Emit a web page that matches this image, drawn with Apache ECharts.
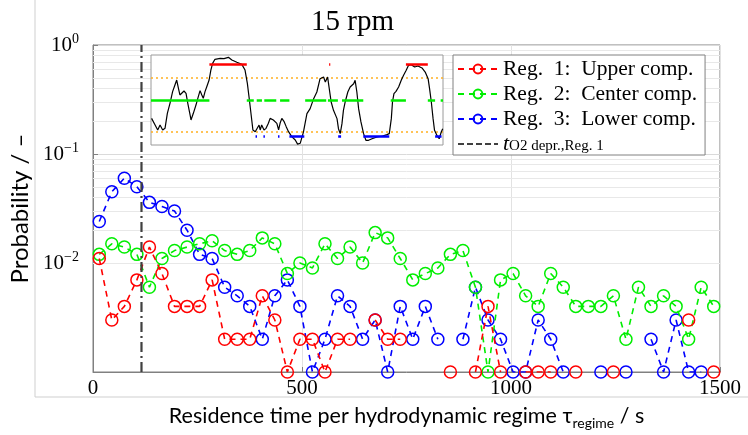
<!DOCTYPE html>
<html>
<head>
<meta charset="utf-8" />
<script src="https://cdn.jsdelivr.net/npm/echarts@6/dist/echarts.min.js"></script>
<style>
  html, body { margin: 0; padding: 0; background: #fff; }
  #chart { width: 748px; height: 435px; }
</style>
</head>
<body>
<div id="chart"></div>
<script>
// bin centres of the residence-time histogram, s
const times = [15, 45, 75, 105, 135, 165, 195, 225, 255, 285,
  315, 345, 375, 405, 435, 465, 495, 525, 555, 585,
  615, 645, 675, 705, 735, 765, 795, 825, 855, 885,
  915, 945, 975, 1005, 1035, 1065, 1095, 1125, 1155, 1185,
  1215, 1245, 1275, 1305, 1335, 1365, 1395, 1425, 1455, 1485];

// probabilities, null = empty bin (not drawn on log axis)
const upperComp = [0.011, 0.003, 0.004, 0.007, 0.014, 0.008, 0.004, 0.004, 0.004, 0.007,
  0.002, 0.002, 0.002, 0.005, 0.003, 0.001, 0.002, 0.002, 0.001, 0.002,
  0.002, null, 0.003, 0.002, 0.002, null, null, null, 0.001, null,
  0.001, 0.004, 0.001, null, 0.001, 0.001, 0.001, null, 0.001, null,
  null, 0.001, null, null, null, null, null, 0.003, null, 0.001];

const centerComp = [0.012, 0.015, 0.014, 0.012, 0.006, 0.011, 0.013, 0.014, 0.015, 0.016,
  0.013, 0.012, 0.013, 0.017, 0.015, 0.008, 0.010, 0.009, 0.015, 0.011,
  0.014, 0.010, 0.019, 0.017, 0.011, 0.007, 0.008, 0.009, 0.012, 0.013,
  0.006, 0.001, 0.007, 0.008, 0.005, 0.004, 0.008, 0.006, 0.004, 0.004,
  0.004, 0.005, 0.002, 0.006, 0.004, 0.005, 0.004, 0.002, 0.006, 0.004];

const lowerComp = [0.024, 0.045, 0.060, 0.050, 0.036, 0.033, 0.030, 0.020, 0.012, 0.011,
  0.006, 0.005, 0.004, 0.002, 0.005, 0.007, 0.004, 0.001, 0.002, 0.005,
  0.004, 0.002, 0.003, 0.001, 0.004, 0.002, 0.004, 0.002, null, 0.002,
  0.006, 0.003, 0.002, 0.001, 0.001, 0.003, 0.002, 0.001, null, null,
  0.001, null, 0.001, null, 0.002, 0.001, 0.003, 0.001, 0.001, null];

const o2DeprTime = 116;
const minorGrid = [0.002, 0.003, 0.004, 0.005, 0.006, 0.007, 0.008, 0.009,
  0.02, 0.03, 0.04, 0.05, 0.06, 0.07, 0.08, 0.09,
  0.2, 0.3, 0.4, 0.5, 0.6, 0.7, 0.8, 0.9];

// inset: signal trace (arbitrary units, 0..100 both ways)
const insetTime = [0.2, 1.4, 2.3, 3.1, 4.0, 4.8, 5.6, 6.5, 7.4, 8.2, 8.8, 9.4, 9.9, 10.5, 11.3, 12.0,
  12.6, 13.4, 13.7, 14.5, 15.4, 16.2, 16.8, 17.4, 17.9, 18.5, 19.1, 19.9, 20.5, 21.1, 21.9,
  23.7, 25.0, 26.5, 27.7, 29.4, 31.1, 32.2, 33.0, 33.7, 34.3, 34.9, 35.7, 36.2, 37.0, 37.4,
  37.9, 38.7, 39.4, 40.2, 40.8, 41.4, 41.9, 42.5, 43.1, 43.7, 44.2, 44.8, 45.6, 46.3, 47.1,
  48.2, 49.4, 50.2, 51.1, 52.2, 53.4, 54.5, 55.7, 56.8, 57.9, 59.1, 59.7, 60.5, 60.8, 61.7,
  62.5, 63.7, 64.2, 64.8, 65.4, 65.9, 66.5, 67.4, 68.2, 69.4, 69.9, 70.5, 71.1, 71.9, 72.8,
  73.6, 74.5, 75.7, 77.4, 79.3, 80.8, 81.6, 82.3, 82.7, 83.2, 83.9, 84.8, 85.7, 86.5, 87.4,
  88.2, 89.1, 90.3, 91.4, 92.8, 93.9, 94.9, 95.4, 96.0, 96.6, 97.1, 97.9, 98.7, 99.4, 99.9];
const insetSignal = [29.6, 22.2, 16.7, 22.2, 16.7, 18.5, 35.2, 46.3, 59.3, 66.7, 72.2, 63.0, 55.6, 57.4, 60.0, 57.4,
  46.3, 33.3, 27.8, 35.2, 44.4, 53.7, 60.4, 55.6, 51.9, 59.3, 64.8, 72.2, 83.3, 90.7, 95.2,
  96.3, 95.9, 97.4, 94.4, 91.9, 89.6, 83.3, 68.5, 50.0, 33.3, 16.7, 14.8, 16.7, 22.2, 16.7,
  22.2, 16.7, 18.5, 24.1, 29.6, 31.5, 27.8, 29.6, 24.1, 16.7, 24.1, 29.6, 25.9, 20.4, 14.8,
  9.3, 5.6, 1.0, 1.9, 14.4, 34.8, 40.4, 51.5, 58.9, 73.7, 75.6, 70.0, 75.6, 68.1, 47.8,
  38.5, 29.3, 18.1, 12.6, 23.7, 38.5, 47.8, 58.9, 64.4, 68.1, 71.9, 58.9, 40.4, 25.6, 12.6,
  5.2, 5.2, 7.0, 8.9, 10.0, 11.5, 12.6, 29.3, 47.8, 57.0, 59.6, 64.4, 71.9, 77.4, 83.0,
  88.5, 89.3, 86.7, 87.8, 85.6, 81.1, 73.7, 62.6, 47.8, 29.3, 16.3, 10.7, 7.0, 14.4, 18.1];
const insetThresholds = [74.8, 14.8];
const upperLevel = 90, centerLevel = 49.6, lowerLevel = 9.3;
const upperSegs = [[20.0, 32.8], [61.0, 61.4], [87.3, 94.8]];
const centerSegs = [[0, 20.0], [32.8, 35.2], [36.2, 38.0], [38.8, 42.9], [44.2, 47.4], [52.8, 60.0],
  [60.6, 64.0], [65.4, 72.7], [82.1, 87.3], [94.8, 97.3], [99.2, 100]];
const lowerSegs = [[35.8, 36.3], [38.5, 39.0], [43.5, 44.0], [47.4, 52.5], [64.1, 65.1], [72.7, 81.6], [97.3, 99.5]];

const serif = 'Liberation Serif';
const sans = 'Lato';
const names = ['Reg.  1:  Upper comp.', 'Reg.  2:  Center comp.', 'Reg.  3:  Lower comp.', 'tO2'];

const toPoints = arr => times.map((t, i) => [t, arr[i] === null ? '-' : arr[i]]);

const histSeries = (name, data, color, z) => ({
  name,
  type: 'line',
  data: toPoints(data),
  z,
  symbol: 'circle',
  symbolSize: 12,
  connectNulls: false,
  itemStyle: { color: 'rgba(0,0,0,0)', borderColor: color, borderWidth: 1.5 },
  lineStyle: { color, width: 1.6, type: [6, 5] },
  emphasis: { disabled: true }
});

const segSeries = (segs, level, color) => ({
  type: 'lines',
  coordinateSystem: 'cartesian2d',
  xAxisIndex: 1,
  yAxisIndex: 1,
  z: 12,
  silent: true,
  lineStyle: { color, width: 2.6, opacity: 1 },
  data: segs.map(s => ({ coords: [[s[0], level], [s[1], level]] }))
});

const chart = echarts.init(document.getElementById('chart'));

const option = {
  animation: false,
  backgroundColor: '#fff',
  title: {
    text: '15 rpm',
    left: 306,
    top: 3,
    textStyle: { fontFamily: serif, fontSize: 29, fontWeight: 'normal', color: '#000' }
  },
  graphic: [
    { type: 'line', shape: { x1: 35, y1: 0, x2: 35, y2: 397 }, style: { stroke: '#cfcfcf', lineWidth: 1 } },
    { type: 'line', shape: { x1: 35, y1: 397, x2: 748, y2: 397 }, style: { stroke: '#cfcfcf', lineWidth: 1 } }
  ],
  legend: {
    data: [
      names[0], names[1], names[2],
      { name: 'tO2', itemStyle: { color: 'rgba(0,0,0,0)', borderColor: 'rgba(0,0,0,0)', borderWidth: 0 },
        lineStyle: { type: [6, 3] } }
    ],
    orient: 'vertical',
    left: 453,
    top: 55,
    itemWidth: 40,
    itemHeight: 11,
    itemGap: 3,
    padding: [3, 8, 0, 4],
    backgroundColor: '#fff',
    borderColor: '#808080',
    borderWidth: 1,
    selectedMode: false,
    z: 20,
    textStyle: {
      fontFamily: serif, fontSize: 21.5, color: '#000', lineHeight: 20,
      rich: {
        it: { fontFamily: serif, fontStyle: 'italic', fontSize: 22, lineHeight: 20 },
        sub: { fontFamily: serif, fontSize: 15, verticalAlign: 'bottom' }
      }
    },
    formatter: name => name === 'tO2' ? '{it|t}{sub|O2 depr.,Reg. 1}' : name
  },
  grid: [
    { left: 93, right: 28, top: 45, bottom: 61, show: true, borderColor: '#808080', borderWidth: 1 },
    { left: 151, top: 55, width: 292, height: 90, show: true, backgroundColor: '#fff', borderColor: '#9a9a9a', borderWidth: 1, z: 3 }
  ],
  xAxis: [
    {
      type: 'value', gridIndex: 0, min: 0, max: 1500, interval: 500,
      axisLine: { lineStyle: { color: '#808080' } },
      axisTick: { inside: true, length: 5, lineStyle: { color: '#808080' } },
      axisLabel: { fontFamily: serif, fontSize: 21, color: '#000', margin: 6, formatter: v => String(v) },
      splitLine: { show: true, lineStyle: { color: '#e2e2e2' } },
      name: '{n|Residence time per hydrodynamic regime τ}{sub|regime}{n| / s}',
      nameLocation: 'middle',
      nameGap: 30,
      nameTextStyle: {
        rich: {
          n: { fontFamily: sans, fontSize: 21.5, color: '#000', lineHeight: 28 },
          sub: { fontFamily: sans, fontSize: 14, color: '#000', verticalAlign: 'bottom' }
        }
      }
    },
    { type: 'value', gridIndex: 1, min: 0, max: 100, show: false }
  ],
  yAxis: [
    {
      type: 'log', gridIndex: 0, logBase: 10, min: 0.001, max: 1,
      axisLine: { show: true, lineStyle: { color: '#808080' } },
      axisTick: { inside: true, length: 5, lineStyle: { color: '#808080' } },
      axisLabel: {
        color: '#000', margin: 14,
        formatter: v => {
          const e = Math.round(Math.log10(v));
          if (e === -3) return '';
          return '{b|10}{sup|' + (e < 0 ? '\u2212' + (-e) : e) + '}';
        },
        rich: {
          b: { fontFamily: serif, fontSize: 21, color: '#000', lineHeight: 26 },
          sup: { fontFamily: serif, fontSize: 14, color: '#000', verticalAlign: 'top' }
        }
      },
      splitLine: { show: true, lineStyle: { color: '#dadada' } },
      name: 'Probability / \u2013',
      nameLocation: 'middle',
      nameGap: 60,
      nameTextStyle: { fontFamily: sans, fontSize: 24, color: '#000' }
    },
    { type: 'value', gridIndex: 1, min: 0, max: 100, show: false }
  ],
  series: [
    Object.assign(histSeries(names[2], lowerComp, '#0000ff', 3), {
      markLine: {
        silent: true,
        z: 1,
        symbol: ['none', 'none'],
        label: { show: false },
        lineStyle: { color: '#e8e8e8', type: 'solid', width: 1 },
        emphasis: { disabled: true },
        data: minorGrid.map(v => ({ yAxis: v }))
      }
    }),
    histSeries(names[1], centerComp, '#00ee00', 4),
    histSeries(names[0], upperComp, '#ff0000', 5),
    {
      name: 'tO2',
      type: 'line',
      data: [[o2DeprTime, 0.001], [o2DeprTime, 1]],
      symbol: 'none',
      z: 6,
      lineStyle: { color: '#404040', width: 2.2, type: [10, 4, 2, 4] },
      itemStyle: { color: '#404040' },
      emphasis: { disabled: true }
    },
    {
      type: 'lines', coordinateSystem: 'cartesian2d', xAxisIndex: 1, yAxisIndex: 1, z: 9, silent: true,
      lineStyle: { color: '#ffb020', width: 1.6, type: [2, 3], opacity: 1 },
      data: insetThresholds.map(v => ({ coords: [[0, v], [100, v]] }))
    },
    {
      type: 'line', xAxisIndex: 1, yAxisIndex: 1, z: 10, symbol: 'none', silent: true,
      data: insetTime.map((t, i) => [t, insetSignal[i]]),
      lineStyle: { color: '#000', width: 1.2 }
    },
    segSeries(upperSegs, upperLevel, '#ff0000'),
    segSeries(centerSegs, centerLevel, '#00ee00'),
    segSeries(lowerSegs, lowerLevel, '#0000ff')
  ]
};

chart.setOption(option);
</script>
</body>
</html>
